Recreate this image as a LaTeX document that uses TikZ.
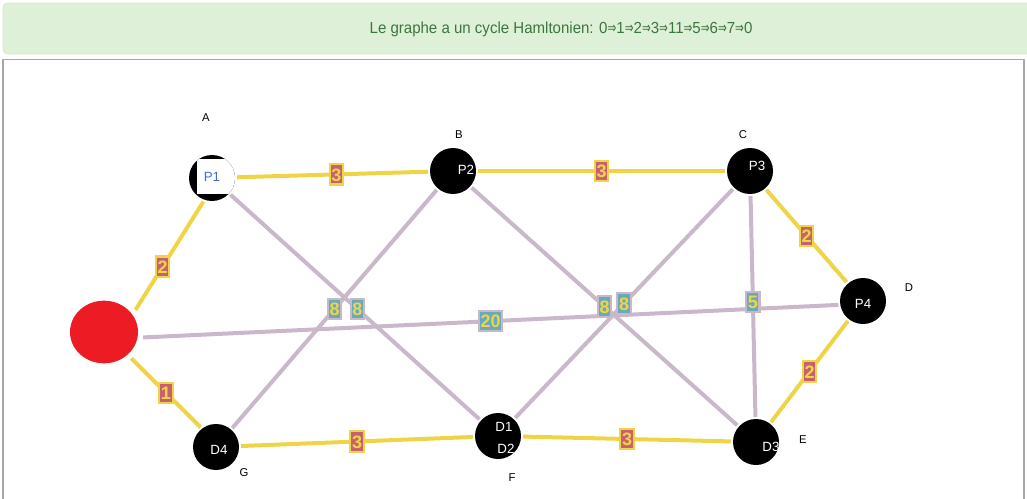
\documentclass[tikz,border=0pt]{standalone}
\usepackage{fontspec}
\setmainfont{Liberation Sans}
\newfontfamily\arrfont{DejaVu Sans}
\usetikzlibrary{shapes.geometric}
\definecolor{bannerfill}{HTML}{DFF0D8}
\definecolor{bannerline}{HTML}{D6E9C6}
\definecolor{bannertext}{HTML}{3C763D}
\definecolor{panelgray}{HTML}{A8A8A8}
\definecolor{jaune}{RGB}{240,212,72}
\definecolor{mauve}{RGB}{200,184,202}
\definecolor{rose}{RGB}{200,96,112}
\definecolor{bleuvert}{RGB}{104,170,186}
\definecolor{rouge}{RGB}{237,28,36}
\definecolor{bleutxt}{RGB}{60,110,220}
\newcommand{\fl}{{\arrfont\scalebox{0.7}[1]{⇒}}}
\begin{document}
\begin{tikzpicture}[x=0.75pt,y=-0.75pt]
    \tikzset{sommet/.style = {shape = circle,fill=black,minimum size = 34.5pt,inner sep = 0pt,outer sep = 1.5pt},
             nom/.style = {text=white,font=\fontsize{10}{11}\selectfont},
             lettre/.style = {font=\fontsize{8.5}{9}\selectfont},
             arj/.style = {draw=jaune,line width=3pt},
             arm/.style = {draw=mauve,line width=3pt},
             poids/.style = {midway,inner xsep=1.2pt,inner ysep=2.6pt,line width=1.6pt,text=jaune,font=\fontsize{13.5}{14}\selectfont\bfseries,text height=10pt,text depth=0pt},
             pj/.style = {poids,fill=rose,draw=jaune},
             pm/.style = {poids,fill=bleuvert,draw=mauve}}
    \useasboundingbox (0,0) rectangle (1027,499);
    % bandeau
    \draw[draw=bannerline,fill=bannerfill,rounded corners=3pt] (3,3) rectangle (1033,54);
    \node[text=bannertext,font=\fontsize{12}{14}\selectfont] (titre) at (561,29) {\scalebox{0.94}[1]{Le graphe a un cycle Hamltonien: 0\fl1\fl2\fl3\fl11\fl5\fl6\fl7\fl0}};
    \draw[panelgray,line width=0.8pt] (3,500) -- (3,59.5) -- (1024,59.5) -- (1024,500);
    % sommets
    \node[shape=ellipse,fill=rouge,minimum width=51pt,minimum height=47pt,inner sep=0pt,outer sep=4pt] (r) at (104,332) {};
    \node[sommet,path picture={\fill[white] ([xshift=-11pt,yshift=-12pt]path picture bounding box.center) rectangle ++(30pt,26.5pt);}] (p1) at (212,178) {};
    \node[text=bleutxt,font=\fontsize{10}{11}\selectfont] (p1t) at (212,177) {P1};
    \node[sommet] (p2) at (453,171) {};
    \node[sommet] (p3) at (750,171) {};
    \node[sommet] (p4) at (863,301) {};
    \node[sommet] (d1) at (498,436) {};
    \node[sommet] (d3) at (756,442) {};
    \node[sommet] (d4) at (216,447) {};
    \node[nom] (p2t) at (466,170) {P2};
    \node[nom] (p3t) at (757,166) {P3};
    \node[nom] (p4t) at (863,304) {P4};
    \node[nom] (d1t) at (504,427) {D1};
    \node[nom] (d2t) at (506,449) {D2};
    \node[nom] (d3t) at (771,447) {D3};
    \node[nom] (d4t) at (219,450) {D4};
    \node[lettre] (la) at (206,118) {A};
    \node[lettre] (lb) at (459,135) {B};
    \node[lettre] (lc) at (743,135) {C};
    \node[lettre] (ld) at (909,288) {D};
    \node[lettre] (le) at (803,440) {E};
    \node[lettre] (lf) at (512,478) {F};
    \node[lettre] (lg) at (244,473) {G};
    % aretes
    \draw[arm] (r.-8) -- node[pm]{20} (p4.189);
    \draw[arm] (p1) -- node[pm,pos=0.51]{8} (d1);
    \draw[arm] (p2) -- node[pm]{8} (d4);
    \draw[arm] (p2) -- node[pm]{8} (d3);
    \draw[arm] (p3) -- node[pm]{8} (d1);
    \draw[arm] (p3) -- node[pm,pos=0.48]{5} (d3);
    \draw[arj] (r.35) -- node[pj,pos=0.4]{2} (p1.250);
    \draw[arj] (r.-44) -- node[pj]{1} (d4.128);
    \draw[arj] (p1) -- node[pj,pos=0.52]{3} (p2);
    \draw[arj] (p2) -- node[pj]{3} (p3);
    \draw[arj] (p3) -- node[pj]{2} (p4);
    \draw[arj] (p4) -- node[pj]{2} (d3);
    \draw[arj] (d4) -- node[pj]{3} (d1);
    \draw[arj] (d1) -- node[pj]{3} (d3);
\end{tikzpicture}
\end{document}
